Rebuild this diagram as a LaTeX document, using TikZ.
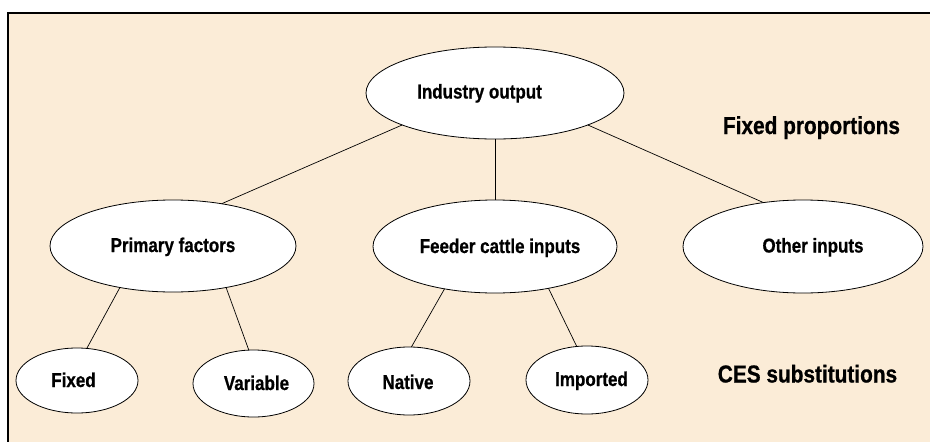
\documentclass[tikz,border=0pt]{standalone}
\usepackage{fontspec}
\newfontfamily\cbf[FakeStretch=0.85,FakeBold=0.7]{Liberation Sans Bold}
\definecolor{bgbeige}{RGB}{251,236,215}
\tikzset{
  oval/.style={ellipse, draw=black, line width=0.8pt, fill=white, inner sep=0pt, outer sep=0pt},
  lbl/.style={anchor=base, inner sep=0pt, font=\cbf\fontsize{20}{24}\selectfont},
  biglbl/.style={anchor=base, inner sep=0pt, font=\cbf\fontsize{24.5}{29}\selectfont},
  conn/.style={draw=black, line width=0.7pt}
}
\usetikzlibrary{shapes.geometric}
\begin{document}
\begin{tikzpicture}[x=1pt,y=-1pt]
\useasboundingbox (0,0) rectangle (930,442);
\fill[bgbeige] (8,13) rectangle (930,442);
\draw[line width=1.6pt] (8,442) -- (8,13) -- (930,13);

% ovals
\node[oval, minimum width=258, minimum height=92] (io) at (495,93) {};
\node[oval, minimum width=246, minimum height=92] (pf) at (173,246) {};
\node[oval, minimum width=244, minimum height=93] (fc) at (495,246.5) {};
\node[oval, minimum width=240, minimum height=93] (oi) at (803,246.5) {};
\node[oval, minimum width=122, minimum height=65] (fx) at (77,380.5) {};
\node[oval, minimum width=121, minimum height=67] (va) at (253.5,383.5) {};
\node[oval, minimum width=122, minimum height=68] (na) at (409,381) {};
\node[oval, minimum width=122, minimum height=68] (im) at (587,380) {};

% labels
\node[lbl] (tio) at (479.5,98.5) {Industry output};
\node[lbl] (tpf) at (173,252) {Primary factors};
\node[lbl] (tfc) at (500,253) {Feeder cattle inputs};
\node[lbl] (toi) at (813,252.5) {Other inputs};
\node[lbl] (tfx) at (73.5,387) {Fixed};
\node[lbl] (tva) at (256.5,390) {Variable};
\node[lbl] (tna) at (408,389) {Native};
\node[lbl] (tim) at (591.5,386) {Imported};
\node[biglbl] (tfp) at (811.5,134) {Fixed proportions};
\node[biglbl] (tces) at (807.5,382.5) {CES substitutions};

% connectors
\draw[conn] (io.199) -- (pf.41.8);
\draw[conn] (io.south) -- (fc.north);
\draw[conn] (io.341.5) -- (oi.132.6);
\draw[conn] (pf.218) -- (fx.73);
\draw[conn] (pf.322) -- (va.98);
\draw[conn] (fc.220.6) -- (na.86);
\draw[conn] (fc.322.1) -- (im.107);
\end{tikzpicture}
\end{document}
